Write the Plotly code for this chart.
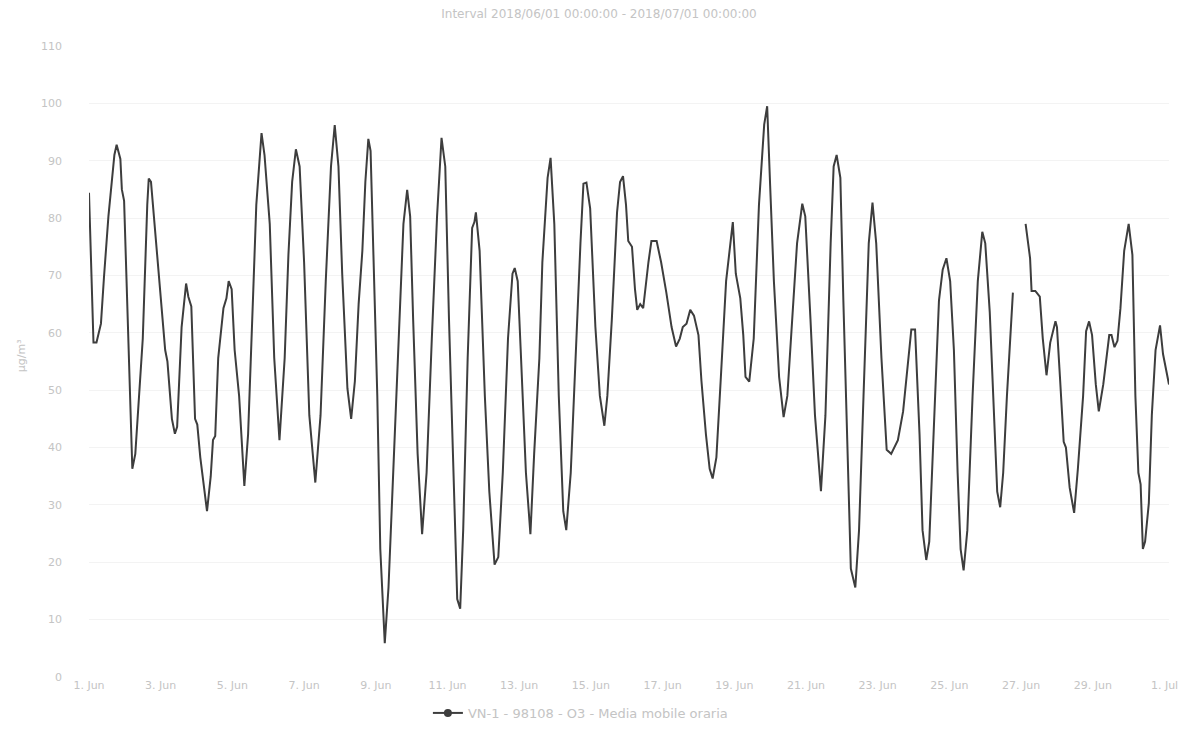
import plotly.graph_objects as go

# Read-off vertices of the hourly moving-average O3 series (µg/m³)
times = [
    "06-01 00:00", "06-01 03:00", "06-01 05:00", "06-01 08:00", "06-01 10:00", "06-01 13:00",
    "06-01 17:00", "06-01 18:30", "06-01 21:00", "06-01 22:00", "06-01 23:30",
    "06-02 03:00", "06-02 05:00", "06-02 07:00", "06-02 12:00", "06-02 15:00", "06-02 16:00",
    "06-02 17:30", "06-02 20:30",
    "06-03 00:00", "06-03 03:00", "06-03 04:30", "06-03 07:30", "06-03 09:30", "06-03 11:00",
    "06-03 14:00", "06-03 17:00", "06-03 18:30", "06-03 20:30", "06-03 23:00",
    "06-04 00:30", "06-04 02:30", "06-04 04:30", "06-04 07:00", "06-04 09:30", "06-04 11:00",
    "06-04 12:30", "06-04 14:30", "06-04 18:00", "06-04 20:00", "06-04 21:30", "06-04 23:30",
    "06-05 01:30", "06-05 04:30", "06-05 08:00", "06-05 10:30", "06-05 14:00", "06-05 16:00",
    "06-05 19:30", "06-05 21:30",
    "06-06 01:00", "06-06 04:00", "06-06 07:30", "06-06 11:00", "06-06 13:30", "06-06 16:00",
    "06-06 18:30", "06-06 21:00",
    "06-07 00:00", "06-07 03:30", "06-07 07:30", "06-07 11:00", "06-07 14:30", "06-07 18:00",
    "06-07 20:30", "06-07 23:00",
    "06-08 01:30", "06-08 05:00", "06-08 07:30", "06-08 10:00", "06-08 12:30", "06-08 15:00",
    "06-08 17:00", "06-08 19:00", "06-08 20:30", "06-08 22:30",
    "06-09 01:00", "06-09 03:00", "06-09 06:00", "06-09 08:30", "06-09 12:00", "06-09 15:30",
    "06-09 18:30", "06-09 21:00", "06-09 23:00",
    "06-10 01:00", "06-10 04:00", "06-10 07:00", "06-10 10:00", "06-10 13:30", "06-10 17:00",
    "06-10 20:00", "06-10 22:30",
    "06-11 01:00", "06-11 04:00", "06-11 06:30", "06-11 08:30", "06-11 10:30", "06-11 13:30",
    "06-11 16:30", "06-11 18:00", "06-11 19:00", "06-11 21:30",
    "06-12 01:00", "06-12 04:00", "06-12 07:30", "06-12 10:00", "06-12 13:00", "06-12 16:30",
    "06-12 19:30", "06-12 21:00", "06-12 23:00",
    "06-13 01:00", "06-13 04:30", "06-13 07:30", "06-13 10:00", "06-13 13:30", "06-13 15:30",
    "06-13 19:00", "06-13 21:00", "06-13 23:30",
    "06-14 02:30", "06-14 05:30", "06-14 07:30", "06-14 10:30", "06-14 13:30", "06-14 17:00",
    "06-14 19:00", "06-14 21:00", "06-14 23:30",
    "06-15 03:00", "06-15 06:00", "06-15 09:00", "06-15 11:00", "06-15 14:00", "06-15 17:30",
    "06-15 19:30", "06-15 21:30", "06-15 23:30",
    "06-16 01:00", "06-16 03:30", "06-16 05:30", "06-16 07:00", "06-16 09:00", "06-16 11:00",
    "06-16 14:30", "06-16 16:30", "06-16 20:00", "06-16 23:00",
    "06-17 02:30", "06-17 06:00", "06-17 09:00", "06-17 11:30", "06-17 13:30", "06-17 16:00",
    "06-17 18:30", "06-17 21:00",
    "06-18 00:00", "06-18 02:00", "06-18 05:00", "06-18 07:30", "06-18 09:30", "06-18 12:00",
    "06-18 15:00", "06-18 18:30", "06-18 23:00",
    "06-19 01:00", "06-19 04:00", "06-19 06:00", "06-19 07:30", "06-19 10:00", "06-19 13:00",
    "06-19 16:30", "06-19 20:00", "06-19 22:00",
    "06-20 00:00", "06-20 02:30", "06-20 06:00", "06-20 09:00", "06-20 11:30", "06-20 14:30",
    "06-20 18:00", "06-20 21:30", "06-20 23:30",
    "06-21 03:00", "06-21 06:00", "06-21 10:00", "06-21 13:00", "06-21 16:30", "06-21 18:30",
    "06-21 20:30", "06-21 23:00",
    "06-22 01:00", "06-22 04:00", "06-22 06:00", "06-22 09:00", "06-22 11:30", "06-22 14:30",
    "06-22 18:00", "06-22 20:30", "06-22 23:00",
    "06-23 02:30", "06-23 06:00", "06-23 09:00", "06-23 13:30", "06-23 17:00", "06-23 20:00",
    "06-23 22:30",
    "06-24 01:00", "06-24 04:00", "06-24 06:00", "06-24 08:30", "06-24 10:30", "06-24 14:00",
    "06-24 17:00", "06-24 19:30", "06-24 22:00",
    "06-25 00:30", "06-25 03:00", "06-25 05:30", "06-25 07:30", "06-25 09:30", "06-25 12:00",
    "06-25 15:30", "06-25 19:00", "06-25 22:00",
    "06-26 00:00", "06-26 03:00", "06-26 06:00", "06-26 08:00", "06-26 10:00", "06-26 12:00",
    "06-26 14:30", "06-26 17:00", "06-26 18:30",
    "06-26 23:00",
    "06-27 03:00", "06-27 06:00", "06-27 07:00", "06-27 09:30", "06-27 12:30", "06-27 14:30",
    "06-27 17:00", "06-27 19:30", "06-27 23:00",
    "06-28 00:00", "06-28 02:00", "06-28 04:30", "06-28 06:00", "06-28 08:30", "06-28 11:30",
    "06-28 14:00", "06-28 17:30", "06-28 19:30", "06-28 21:30", "06-28 23:30",
    "06-29 02:00", "06-29 04:00", "06-29 07:00", "06-29 09:00", "06-29 11:00", "06-29 12:30",
    "06-29 14:30", "06-29 16:30", "06-29 18:30", "06-29 21:00",
    "06-30 00:00", "06-30 02:30", "06-30 04:30", "06-30 06:30", "06-30 08:00", "06-30 09:30",
    "06-30 11:00", "06-30 13:30", "06-30 15:30", "06-30 18:00", "06-30 21:00", "06-30 23:00",
    "07-01 01:30", "07-01 03:00",
]

values = [
    84.4, 58.3, 58.3, 61.6, 69.6, 80.3,
    91.0, 92.8, 90.3, 85.0, 83.0,
    55.6, 36.3, 38.9, 59.0, 82.3, 86.9,
    86.3, 77.0,
    66.3, 57.0, 55.0, 45.0, 42.4, 43.6,
    61.0, 68.6, 66.3, 64.6, 45.0,
    44.0, 38.3, 34.3, 28.9, 35.0, 41.3,
    42.0, 55.6, 64.3, 66.0, 69.0, 67.6,
    57.0, 49.0, 33.3, 42.3, 67.6, 82.3,
    94.8, 91.0,
    79.0, 55.6, 41.3, 55.6, 73.6, 86.3,
    92.0, 89.0,
    72.3, 45.6, 33.9, 45.6, 69.0, 89.0,
    96.2, 89.0,
    70.3, 50.3, 45.0, 51.6, 65.0, 74.3,
    86.3, 93.8, 91.7, 72.3,
    49.0, 22.3, 5.9, 15.6, 38.9, 59.0,
    79.0, 84.9, 80.3,
    62.3, 38.9, 24.9, 35.6, 59.0, 80.3,
    94.0, 89.0,
    62.3, 35.6, 13.6, 11.9, 25.6, 55.6,
    78.3, 79.3, 81.0, 74.3,
    49.0, 32.3, 19.6, 20.9, 35.6, 59.0,
    70.3, 71.3, 69.0,
    57.0, 35.6, 24.9, 38.9, 55.6, 72.3,
    87.0, 90.5, 79.0,
    49.0, 28.9, 25.6, 35.6, 55.6, 75.6,
    86.0, 86.2, 81.7,
    61.0, 49.0, 43.8, 49.0, 62.3, 81.0,
    86.3, 87.3, 82.3,
    76.0, 75.0, 67.6, 64.0, 65.0, 64.3,
    72.3, 76.0, 76.0, 72.3,
    67.0, 61.0, 57.6, 59.0, 61.0, 61.6,
    64.0, 63.0,
    59.6, 51.6, 42.3, 36.3, 34.6, 38.3,
    52.3, 69.0, 79.3,
    70.3, 66.0, 59.6, 52.3, 51.5, 59.0,
    82.3, 96.3, 99.5,
    85.6, 69.0, 52.3, 45.3, 49.0, 61.0,
    75.6, 82.5, 80.3,
    62.3, 45.6, 32.4, 45.6, 75.6, 89.0,
    91.0, 87.0,
    65.6, 35.6, 18.9, 15.6, 25.6, 49.0,
    75.6, 82.7, 75.6,
    55.6, 39.6, 38.9, 41.3, 46.3, 54.3,
    60.6,
    60.6, 42.3, 25.6, 20.4, 23.6, 45.6,
    65.6, 71.0, 73.0,
    69.0, 57.0, 35.6, 22.3, 18.6, 25.6,
    49.0, 69.0, 77.6,
    75.6, 63.6, 45.6, 32.3, 29.6, 35.6,
    49.0, 61.0, 67.0,
    None,
    79.0, 73.0, 67.3, 67.3, 66.3, 59.0,
    52.6, 58.3, 62.0,
    61.0, 52.3, 41.0, 40.0, 33.0, 28.6,
    36.3, 49.0, 60.3, 62.0, 59.6,
    51.0, 46.3, 51.0, 55.6, 59.6, 59.6,
    57.5, 58.6, 64.3, 74.3,
    79.0, 73.6, 49.0, 35.6, 33.6, 22.3,
    23.6, 30.3, 45.6, 57.0, 61.3, 56.3,
    53.0, 51.0,
]

y_ticks = [0, 10, 20, 30, 40, 50, 60, 70, 80, 90, 100, 110]
series_name = "VN-1 - 98108 - O3 - Media mobile oraria"
title_text = "Interval 2018/06/01 00:00:00 - 2018/07/01 00:00:00"
y_title = "µg/m³"

x = ["2018-" + t for t in times]

LINE = "#3d3d3d"
TEXT = "#c4c4c4"
FONT = "DejaVu Sans"

# page body adds an 8px offset; figure size/margins compensate for it
W, H = 1182, 735

fig = go.Figure()
fig.add_trace(go.Scatter(
    x=x, y=values, mode="lines", connectgaps=False,
    line=dict(color=LINE, width=2), showlegend=False,
))
fig.add_trace(go.Scatter(
    x=[None], y=[None], mode="lines+markers", name=series_name,
    line=dict(color=LINE, width=2), marker=dict(color=LINE, size=8),
))

fig.update_layout(
    width=W, height=H,
    margin=dict(l=81, r=13, t=38, b=66),
    paper_bgcolor="white", plot_bgcolor="white",
    font=dict(family=FONT, color=TEXT, size=11),
    title=dict(text=title_text, x=0.5, xanchor="center", y=1 - 6 / H, yanchor="middle",
               font=dict(family=FONT, size=12, color=TEXT)),
    legend=dict(orientation="h", x=0.455, xanchor="center", y=-0.057, yanchor="middle",
                itemwidth=30,
                font=dict(family=FONT, size=13, color=TEXT), bgcolor="rgba(0,0,0,0)"),
    xaxis=dict(
        type="date", range=["2018-06-01 00:00", "2018-07-01 03:00"],
        tick0="2018-06-01", dtick=2 * 86400000, tickformat="%-d. %b",
        showgrid=False, zeroline=False, showline=False, ticks="",
        tickfont=dict(family=FONT, size=11, color=TEXT),
    ),
    yaxis=dict(
        range=[0, 110], tickvals=y_ticks, showgrid=True, gridcolor="#f3f3f3",
        zeroline=False, showline=False, ticks="", ticklabelstandoff=26,
        tickfont=dict(family=FONT, size=11, color=TEXT),
    ),
    annotations=[dict(text=y_title, xref="paper", yref="paper", x=-0.063, y=0.51,
                      textangle=-90, showarrow=False, xanchor="center", yanchor="middle",
                      font=dict(family=FONT, size=11, color=TEXT))],
)

fig.write_html("out.html")
